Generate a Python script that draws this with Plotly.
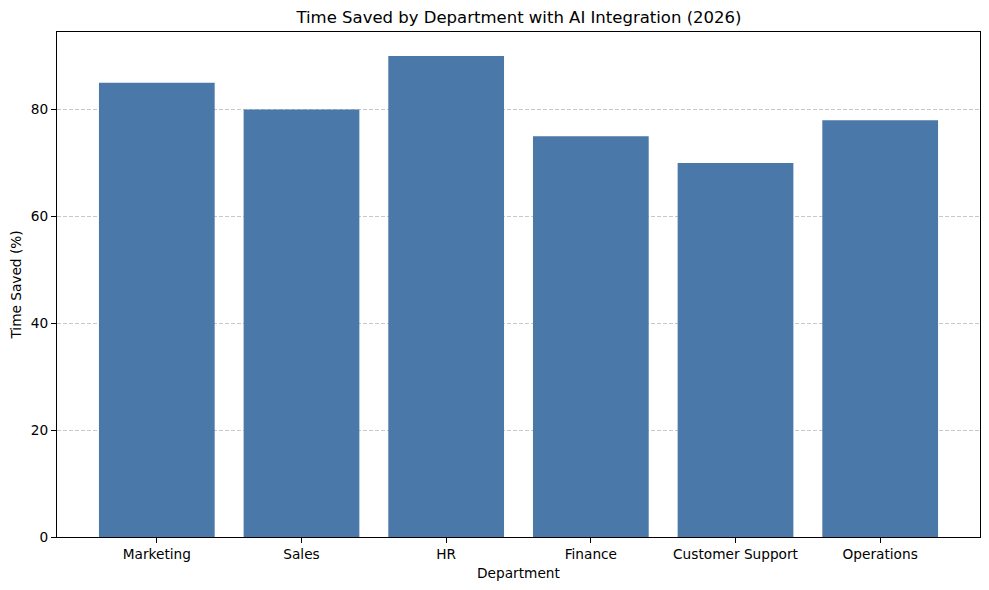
import plotly.graph_objects as go

departments = ["Marketing", "Sales", "HR", "Finance", "Customer Support", "Operations"]
time_saved = [85, 80, 90, 75, 70, 78]
y_ticks = [0, 20, 40, 60, 80]

FONT = "DejaVu Sans"
OFF = 8  # browser default body margin
W, H = 989 - 2 * OFF, 590 - 2 * OFF
fig = go.Figure()
fig.add_trace(go.Bar(
    x=list(range(len(departments))), y=time_saved, width=0.8,
    marker=dict(color="#4a78a8", line=dict(width=0)),
))

fig.update_layout(
    width=W, height=H,
    margin=dict(l=57 - OFF, r=989 - 980 - OFF, t=32 - OFF, b=590 - 537 - OFF),
    paper_bgcolor="white", plot_bgcolor="white",
    font=dict(family=FONT, size=13.7, color="black"),
    showlegend=False,
    title=dict(text="Time Saved by Department with AI Integration (2026)",
               x=(519 - OFF) / W, xanchor="center", y=1 - (17 - OFF) / H, yanchor="middle",
               font=dict(size=16.5, family=FONT, color="black")),
)
fig.update_xaxes(
    range=[-0.69, len(departments) - 1 + 0.69],
    tickmode="array", tickvals=list(range(len(departments))), ticktext=departments,
    ticks="outside", ticklen=5, tickwidth=1, tickcolor="black",
    showline=True, linecolor="black", linewidth=1, mirror=True,
    showgrid=False, zeroline=False, layer="above traces",
    title=dict(text="Department", standoff=6, font=dict(size=13.7)),
)
fig.update_yaxes(
    range=[0, 94.5],
    tickmode="array", tickvals=y_ticks,
    ticks="outside", ticklen=5, tickwidth=1, tickcolor="black",
    showline=True, linecolor="black", linewidth=1, mirror=True,
    showgrid=True, gridcolor="rgba(176,176,176,0.7)", griddash="4px,2px", gridwidth=1,
    zeroline=False, layer="above traces",
    title=dict(text="Time Saved (%)", standoff=8, font=dict(size=13.7)),
)
fig.write_html("out.html")
